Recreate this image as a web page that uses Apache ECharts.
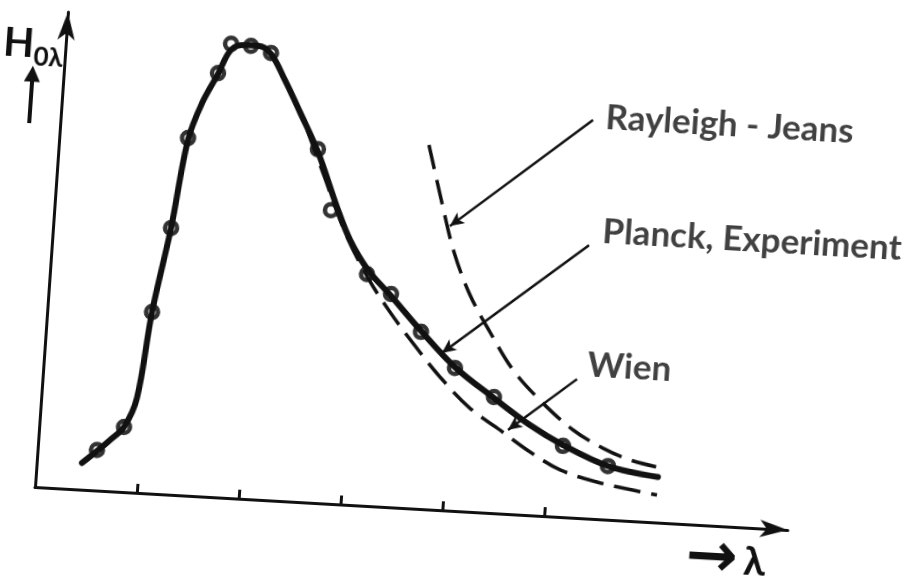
<!DOCTYPE html>
<html>
<head>
<meta charset="utf-8">
<script src="https://cdn.jsdelivr.net/npm/echarts@6.0.0/dist/echarts.min.js"></script>
<style>
  html, body { margin: 0; padding: 0; width: 919px; height: 576px; overflow: hidden; background: #fff; }
  /* the scanned figure sits a few degrees askew, so the whole chart is tilted */
  #chart {
    position: absolute; left: -100px; top: -50px; width: 1120px; height: 680px;
    transform-origin: 135px 537px;
    transform: matrix(0.99837, 0.05704, -0.06924, 0.99760, 0, 0);
  }
</style>
</head>
<body>
<div id="chart"></div>
<script>
// wavelength in tick units, H0λ in % of the peak

// Planck curve (solid)
const planckX = [0.443, 0.582, 0.702, 0.830, 0.937, 1.026, 1.155, 1.261, 1.373, 1.510, 1.620, 1.754, 1.882, 2.015, 2.169, 2.337, 2.540, 2.764, 2.913, 3.110, 3.352, 3.670, 4.026, 4.428, 4.799, 5.135, 5.590, 6.086]
const planckY = [5.77, 8.54, 11.08, 14.07, 20.5, 39.26, 57.65, 76.9, 85.0, 91.5, 96.9, 98.1, 98.1, 96.5, 91.0, 84.3, 75.9, 64.2, 57.3, 51.0, 45.7, 38.5, 31.1, 24.9, 19.5, 15.6, 11.6, 9.85]

// measured points (circles)
const expX = [0.581, 0.830, 1.026, 1.155, 1.260, 1.509, 1.617, 1.813, 2.014, 2.538, 2.707, 3.103, 3.351, 3.670, 4.027, 4.428, 5.136, 5.590]
const expY = [8.76, 14.07, 39.26, 57.65, 77.3, 91.7, 98.2, 98.0, 96.7, 76.5, 63.5, 50.1, 46.1, 38.3, 30.9, 25.1, 15.4, 11.6]

// Wien (dashed, under the Planck curve until past the peak)
const wienX = [1.754, 1.882, 2.015, 2.169, 2.337, 2.592, 2.859, 3.115, 3.353, 3.589, 3.886, 4.201, 4.510, 4.818, 5.123, 5.493, 5.851, 6.089]
const wienY = [98.1, 98.1, 96.5, 91.0, 84.3, 72.0, 58.9, 49.3, 42.2, 36.0, 28.8, 22.4, 18.05, 13.7, 10.2, 8.0, 6.7, 5.95]

// Rayleigh - Jeans (dashed)
const rjX = [3.621, 3.788, 3.939, 4.124, 4.345, 4.596, 4.880, 5.223, 5.529, 5.801, 6.070]
const rjY = [78.8, 66.4, 55.95, 46.9, 39.1, 31.2, 25.0, 19.0, 15.4, 13.2, 12.0]

// annotations: text, where the text starts, where the pointer ends
const noteText = ['Rayleigh - Jeans', 'Planck, Experiment', 'Wien']
const noteX = [5.325, 5.373, 5.316]
const noteY = [86.8, 62.1, 33.2]
const pointerFromX = [5.209, 5.255, 5.228]
const pointerFromY = [86.2, 59.1, 30.0]
const pointerToX = [3.881, 3.889, 4.588]
const pointerToY = [61.5, 34.0, 18.2]

const xTicks = [1, 2, 3, 4, 5]

function zip(xs, ys) {
    return xs.map((x, i) => [x, ys[i]])
}

const ink = '#111'
const font = 'Lato, "DejaVu Sans", sans-serif'

let myChart = echarts.init(document.getElementById('chart'), null, { width: 1120, height: 680 })

myChart.setOption({
    animation: false,
    backgroundColor: 'transparent',
    grid: { left: 135, top: 61, right: 231, bottom: 143, outerBoundsMode: 'none' },
    xAxis: {
        type: 'value', min: 0, max: 7.392,
        axisLine: { show: true, symbol: ['none', 'arrow'], symbolSize: [13, 28], lineStyle: { color: ink, width: 3 } },
        axisTick: { show: true, inside: true, length: 9, customValues: xTicks, lineStyle: { color: ink, width: 3 } },
        axisLabel: { show: false },
        splitLine: { show: false },
        name: '{a|→}{l|λ}',
        nameLocation: 'end',
        nameGap: -20,
        nameTextStyle: {
            align: 'right', verticalAlign: 'top', padding: [3, 0, 0, 0],
            rich: {
                a: { fontSize: 62, fontFamily: '"DejaVu Sans"', fontWeight: 'bold', color: ink, padding: [0, 6, 0, 0] },
                l: { fontSize: 40, fontFamily: font, fontWeight: 'bold', color: ink }
            }
        }
    },
    yAxis: {
        type: 'value', min: 0, max: 103.03,
        axisLine: { show: true, symbol: ['none', 'arrow'], symbolSize: [13, 28], lineStyle: { color: ink, width: 3 } },
        axisTick: { show: false },
        axisLabel: { show: false },
        splitLine: { show: false },
        // H0λ with a small upward arrow under it
        name: '{h|H}{s|0λ}\n{tri|▲}{g1| }\n{bar| }{g2| }',
        nameLocation: 'end',
        nameGap: -14,
        nameTextStyle: {
            align: 'right', verticalAlign: 'top', padding: [0, 2, 0, 0],
            rich: {
                h: { fontSize: 40, lineHeight: 42, verticalAlign: 'top', fontFamily: font, fontWeight: 'bold', color: ink },
                s: { fontSize: 26, lineHeight: 26, verticalAlign: 'top', padding: [20, 0, 0, 0], fontFamily: font, fontWeight: 'bold', color: ink },
                tri: { fontSize: 21, lineHeight: 15, fontFamily: '"DejaVu Sans"', color: ink },
                g1: { width: 21, fontSize: 4, lineHeight: 15 },
                bar: { width: 4, height: 42, fontSize: 4, backgroundColor: ink },
                g2: { width: 27, fontSize: 4, height: 42 }
            }
        }
    },
    series: [
        {
            name: 'Wien', type: 'line', data: zip(wienX, wienY),
            smooth: 0.35, symbol: 'none', silent: true,
            lineStyle: { color: ink, width: 3.5, type: [27, 11] }
        },
        {
            name: 'Rayleigh - Jeans', type: 'line', data: zip(rjX, rjY),
            smooth: 0.35, symbol: 'none', silent: true,
            lineStyle: { color: ink, width: 3.5, type: [25, 11] }
        },
        {
            name: 'Planck', type: 'line', data: zip(planckX, planckY),
            smooth: 0.35, symbol: 'none', silent: true,
            lineStyle: { color: ink, width: 6, cap: 'round' }
        },
        {
            name: 'Experiment', type: 'scatter', data: zip(expX, expY),
            symbol: 'circle', symbolSize: 12, silent: true,
            itemStyle: { color: '#fff', borderColor: '#000', borderWidth: 4.5 }
        },
        {
            name: 'notes', type: 'scatter', silent: true,
            data: noteText.map((t, i) => ({ name: t, value: [noteX[i], noteY[i]] })),
            symbolSize: 1,
            itemStyle: { color: 'rgba(0,0,0,0)' },
            label: {
                show: true, position: 'right', distance: 0,
                formatter: p => p.name,
                fontFamily: font, fontWeight: 'bold', fontSize: 35, color: ink
            },
            markLine: {
                silent: true,
                symbol: ['none', 'arrow'],
                symbolSize: [10, 14],
                label: { show: false },
                lineStyle: { color: ink, width: 2.5, type: 'solid' },
                data: noteText.map((t, i) => [
                    { coord: [pointerFromX[i], pointerFromY[i]] },
                    { coord: [pointerToX[i], pointerToY[i]] }
                ])
            }
        }
    ]
})
</script>
</body>
</html>
